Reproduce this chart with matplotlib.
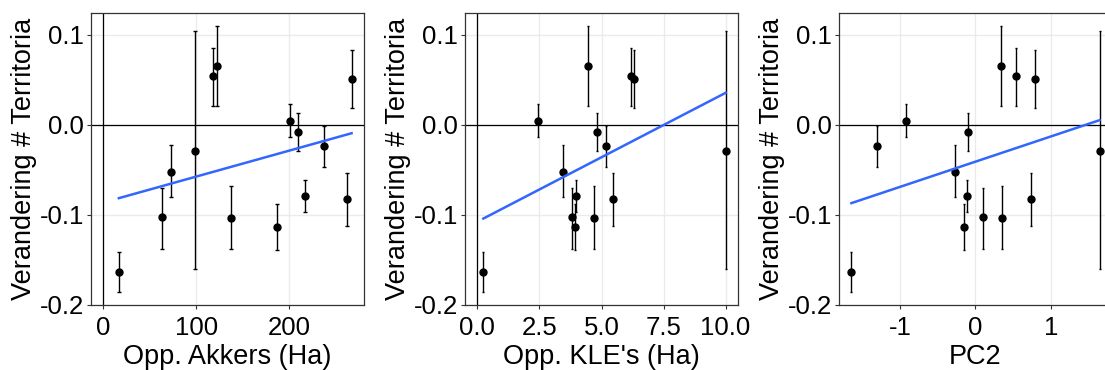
import numpy as np
import matplotlib
matplotlib.use("Agg")
import matplotlib.pyplot as plt

plt.rcParams['font.family'] = ['Liberation Sans', 'DejaVu Sans']
plt.rcParams['axes.unicode_minus'] = False

# response (same for every panel), with error bar limits
y = [-0.1636, -0.1018, -0.0518, -0.029, 0.0544, 0.0658, -0.1033,
     -0.1136, 0.004, -0.0074, -0.079, -0.0232, -0.082, 0.0515]
y_lo = [-0.1853, -0.1375, -0.0805, -0.160, 0.0213, 0.0213, -0.1375,
        -0.1393, -0.0129, -0.029, -0.097, -0.0463, -0.1125, 0.0184]
y_hi = [-0.1408, -0.0695, -0.0228, 0.1044, 0.0857, 0.110, -0.0676,
        -0.0875, 0.0228, 0.0129, -0.0614, -0.001, -0.053, 0.0831]

akkers = [16.6, 63.2, 72.9, 98.6, 118, 122, 137.5, 186.6, 200.7, 209.4,
          217.3, 237.2, 261.7, 267.1]
kle = [0.24, 3.82, 3.46, 10.0, 6.18, 4.44, 4.71, 3.93, 2.46, 4.83,
       3.98, 5.2, 5.45, 6.29]
pc2 = [-1.642, 0.097, -0.265, 1.646, 0.540, 0.341, 0.358, -0.146, -0.92,
       -0.093, -0.111, -1.30, 0.735, 0.788]

# fitted lines (intercept, slope)
fit_akkers = (-0.0861, 0.000288)
fit_kle = (-0.1074, 0.01431)
fit_pc2 = (-0.0408, 0.02803)

panels = [
    (akkers, fit_akkers, "Opp. Akkers (Ha)", [0, 100, 200], ["0", "100", "200"], True, 1.5),
    (kle, fit_kle, "Opp. KLE's (Ha)", [0, 2.5, 5, 7.5, 10], ["0.0", "2.5", "5.0", "7.5", "10.0"], True, 0.8),
    (pc2, fit_pc2, "PC2", [-1, 0, 1], ["-1", "0", "1"], False, 0.8),
]

W, H = 1105, 370
fig = plt.figure(figsize=(W / 100, H / 100), dpi=100)
lefts = [91, 465, 839]
aw, top, bot = 273, 13, 305

y = np.array(y)
yerr = [y - np.array(y_lo), np.array(y_hi) - y]

for (xs, fit, xlabel, ticks, labels, vline, cap), left in zip(panels, lefts):
    ax = fig.add_axes([left / W, 1 - bot / H, aw / W, (bot - top) / H])
    xs = np.array(xs)
    lo = min(xs.min(), 0) if vline else xs.min()
    hi = xs.max()
    pad = 0.05 * (hi - lo)
    ax.set_xlim(lo - pad, hi + pad)
    ax.set_ylim(-0.2, 0.1244)
    ax.grid(True, color='#EBEBEB', linewidth=1.0)
    ax.set_axisbelow(True)
    ax.axhline(0, color='black', linewidth=0.9, zorder=2)
    if vline:
        ax.axvline(0, color='black', linewidth=0.9, zorder=2)
    ax.errorbar(xs, y, yerr=yerr, fmt='o', color='black', markersize=5,
                elinewidth=1.0, capsize=cap, capthick=1.0, zorder=3)
    xx = np.array([xs.min(), xs.max()])
    ax.plot(xx, fit[0] + fit[1] * xx, color='#3366FF', linewidth=1.8, zorder=4)
    ax.set_xticks(ticks)
    ax.set_xticklabels(labels)
    ax.set_yticks([-0.2, -0.1, 0.0, 0.1])
    ax.set_yticklabels(["-0.2", "-0.1", "0.0", "0.1"])
    ax.tick_params(labelsize=18.5, colors='black', length=3, color='#333333', width=0.8, pad=2)
    ax.tick_params(axis='x', pad=5)
    for s in ax.spines.values():
        s.set_color('#333333')
        s.set_linewidth(0.9)
    ax.set_xlabel(xlabel, fontsize=19.5, labelpad=3)
    ax.set_ylabel("Verandering # Territoria", fontsize=19.5, labelpad=2)

fig.savefig("out.png", dpi=100)
